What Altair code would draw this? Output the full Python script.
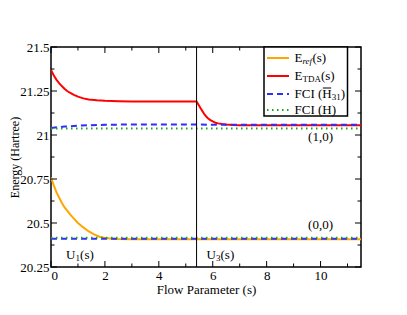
import altair as alt
import pandas as pd

# ---------------- data ----------------
s_tda = [0, 0.1, 0.2, 0.3, 0.4, 0.5, 0.6, 0.7, 0.85, 1.0, 1.2, 1.4, 1.7, 2.0, 2.5, 3.0, 4.0, 5.0, 5.4,
         5.45, 5.5, 5.55, 5.6, 5.7, 5.8, 5.9, 6.0, 6.1, 6.2, 6.35, 6.5, 6.75, 7.0, 8.0, 9.0, 10.0, 11.0, 11.5]
e_tda = [21.37, 21.34, 21.315, 21.295, 21.278, 21.263, 21.25, 21.24, 21.228, 21.218, 21.208, 21.202,
         21.197, 21.194, 21.192, 21.191, 21.19, 21.19, 21.19,
         21.178, 21.165, 21.152, 21.14, 21.115, 21.098, 21.086, 21.077, 21.07, 21.066,
         21.062, 21.059, 21.057, 21.056, 21.056, 21.056, 21.056, 21.056, 21.056]

s_ref = [0, 0.1, 0.2, 0.3, 0.4, 0.5, 0.6, 0.7, 0.85, 1.0, 1.2, 1.4, 1.6, 1.8, 2.0, 2.4, 3.0, 11.5]
e_ref = [20.76, 20.715, 20.675, 20.645, 20.615, 20.59, 20.57, 20.55, 20.525, 20.5, 20.475, 20.452,
         20.435, 20.422, 20.415, 20.409, 20.407, 20.407]

s_h31_upper = [0, 0.5, 1.0, 1.5, 2.0, 3.0, 5.4, 6.0, 11.5]
e_h31_upper = [21.04, 21.048, 21.053, 21.056, 21.058, 21.06, 21.06, 21.058, 21.058]
s_h31_lower = [0, 11.5]
e_h31_lower = [20.41, 20.41]

s_fci = [0, 11.5]
e_fci_upper = [21.037, 21.037]
e_fci_lower = [20.416, 20.416]

s_switch = [5.4]
x_major = [0, 2, 4, 6, 8, 10]
x_minor = [1, 3, 5, 7, 9, 11]
y_major = [20.25, 20.5, 20.75, 21.0, 21.25, 21.5]
y_minor = [20.375, 20.625, 20.875, 21.125, 21.375]
x_domain = [0, 11.5]
y_domain = [20.25, 21.5]

state_labels = ["(1,0)", "(0,0)"]
state_label_s = [10.0, 10.0]
state_label_e = [20.99, 20.49]

flow_main = ["U", "U"]
flow_sub = ["1", "3"]
flow_s = [0.56, 5.77]
flow_e = [20.32, 20.32]

# ---------------- styling ----------------
FONT = "Liberation Serif"
PAD_L, PAD_T = 43, 39
W, H = 310, 220
MAJ, MIN = 6, 3.5
ORANGE, RED, BLUE, GREEN = "#FFA500", "#FF0000", "#2e2eff", "#1fa01f"

rows = []
def add(series, branch, ss, ee):
    for s, e in zip(ss, ee):
        rows.append({"s": s, "E": e, "series": series, "branch": branch})

add("tda", "u", s_tda, e_tda)
add("ref", "l", s_ref, e_ref)
add("h31", "u", s_h31_upper, e_h31_upper)
add("h31", "l", s_h31_lower, e_h31_lower)
add("fci", "u", s_fci, e_fci_upper)
add("fci", "l", s_fci, e_fci_lower)
df = pd.DataFrame(rows)

xscale = alt.Scale(domain=x_domain, nice=False, zero=False)
yscale = alt.Scale(domain=y_domain, nice=False, zero=False)

xaxis = alt.Axis(values=x_major, ticks=False, domain=False, grid=False,
                 labelFont=FONT, labelFontSize=13, labelColor="black", labelPadding=2,
                 labelExpr="datum.value + ''",
                 title="Flow Parameter (s)", titleFont=FONT, titleFontSize=13,
                 titleFontWeight="normal", titleColor="black", titleY=22, titleBaseline="middle")
yaxis = alt.Axis(values=y_major, ticks=False, domain=False, grid=False,
                 labelFont=FONT, labelFontSize=13, labelColor="black", labelPadding=2,
                 labelExpr="datum.value + ''", labelOverlap=False, labelFlush=False,
                 title="Energy (Hartree)", titleFont=FONT, titleFontSize=12,
                 titleFontWeight="normal", titleColor="black", titleX=-32.5, titleY=H / 2,
                 titleAngle=270, titleBaseline="alphabetic", titleAlign="center")


def X(field):
    return alt.X(field, scale=xscale, axis=xaxis)


def Y(field):
    return alt.Y(field, scale=yscale, axis=yaxis)


def line_layer(series, color, dash=None):
    kw = dict(color=color, strokeWidth=2, clip=True)
    if dash is not None:
        kw["strokeDash"] = dash
    return alt.Chart(df).transform_filter(alt.datum.series == series).mark_line(**kw).encode(
        x=X("s:Q"), y=Y("E:Q"), detail="branch:N")


layers = [
    line_layer("tda", RED),
    line_layer("ref", ORANGE),
    line_layer("h31", BLUE, [6, 4]),
    line_layer("fci", GREEN, [1.5, 3.5]),
]

# switch line
layers.append(alt.Chart(pd.DataFrame({"s": s_switch})).mark_rule(color="black", strokeWidth=1).encode(
    x=X("s:Q")))

# inward ticks on all four sides
def xticks(vals, L):
    d = pd.DataFrame({"s": vals})
    return [
        alt.Chart(d).mark_rule(color="black", strokeWidth=1).encode(x=X("s:Q"), y=alt.value(H), y2=alt.value(H - L)),
        alt.Chart(d).mark_rule(color="black", strokeWidth=1).encode(x=X("s:Q"), y=alt.value(0), y2=alt.value(L)),
    ]

def yticks(vals, L):
    d = pd.DataFrame({"E": vals})
    return [
        alt.Chart(d).mark_rule(color="black", strokeWidth=1).encode(y=Y("E:Q"), x=alt.value(0), x2=alt.value(L)),
        alt.Chart(d).mark_rule(color="black", strokeWidth=1).encode(y=Y("E:Q"), x=alt.value(W), x2=alt.value(W - L)),
    ]

layers += xticks(x_major, MAJ) + xticks(x_minor, MIN) + yticks(y_major, MAJ) + yticks(y_minor, MIN)

# state annotations
ann = pd.DataFrame({"s": state_label_s, "E": state_label_e, "label": state_labels})
layers.append(alt.Chart(ann).mark_text(font=FONT, fontSize=13, color="black", align="center",
                                       baseline="middle").encode(x=X("s:Q"), y=Y("E:Q"), text="label:N"))

# flow labels U_1(s), U_3(s)
fl = pd.DataFrame({"s": flow_s, "E": flow_e, "main": flow_main, "sub": flow_sub})
layers.append(alt.Chart(fl).mark_text(font=FONT, fontSize=13, color="black", align="left",
                                      baseline="alphabetic", dy=4).encode(x=X("s:Q"), y=Y("E:Q"), text="main:N"))
layers.append(alt.Chart(fl).mark_text(font=FONT, fontSize=9, color="black", align="left",
                                      baseline="alphabetic", dx=9.4, dy=6.5).encode(x=X("s:Q"), y=Y("E:Q"), text="sub:N"))
layers.append(alt.Chart(fl).mark_text(font=FONT, fontSize=13, color="black", align="left",
                                      baseline="alphabetic", dx=14, dy=4).encode(x=X("s:Q"), y=Y("E:Q"), text=alt.value("(s)")))

# ---------------- legend (drawn by hand to allow subscripts) ----------------
one = alt.Data(values=[{"k": 1}])
OX = 48 - PAD_L - 8 + 3  # shift so the legend keeps its page position
BX0, BX1, BY0, BY1 = 216 - 3, 299.5 - 3, 0, 69
layers.append(alt.Chart(one).mark_rect(fill="white", stroke="black", strokeWidth=1.5).encode(
    x=alt.value(BX0), x2=alt.value(BX1), y=alt.value(BY0), y2=alt.value(BY1)))

ly = [11, 29, 47, 63]
samples = [(ORANGE, None), (RED, None), (BLUE, [6, 4]), (GREEN, [1.5, 3.5])]
for yy, (c, dash) in zip(ly, samples):
    kw = dict(color=c, strokeWidth=2)
    if dash is not None:
        kw["strokeDash"] = dash
    layers.append(alt.Chart(one).mark_rule(**kw).encode(
        x=alt.value(216), x2=alt.value(238), y=alt.value(yy)))

TX = 243.5

def txt(x, y, s, size=13, italic=False):
    kw = dict(font=FONT, fontSize=size, color="black", align="left", baseline="alphabetic")
    if italic:
        kw["fontStyle"] = "italic"
    return alt.Chart(one).mark_text(**kw).encode(x=alt.value(x), y=alt.value(y), text=alt.value(s))

# E_ref(s)
layers += [txt(TX, ly[0] + 4, "E"), txt(TX + 7.9, ly[0] + 6, "ref", 9, True), txt(TX + 17.9, ly[0] + 4, "(s)")]
# E_TDA(s)
layers += [txt(TX, ly[1] + 4, "E"), txt(TX + 7.9, ly[1] + 6, "TDA", 9), txt(TX + 26.4, ly[1] + 4, "(s)")]
# FCI (H̄_31)
layers += [txt(TX, ly[2] + 4, "FCI ("), txt(TX + 27.8, ly[2] + 4, "H"), txt(TX + 37.2, ly[2] + 6, "31", 9),
           txt(TX + 46.2, ly[2] + 4, ")")]
layers.append(alt.Chart(one).mark_rule(color="black", strokeWidth=1).encode(
    x=alt.value(TX + 28.3), x2=alt.value(TX + 36.7), y=alt.value(ly[2] - 6)))
# FCI (H)
layers += [txt(TX, ly[3] + 4, "FCI (H)")]

chart = alt.layer(*layers).properties(
    width=W, height=H,
    padding={"left": PAD_L, "top": PAD_T, "right": 391 - PAD_L - W, "bottom": 299 - PAD_T - H},
    autosize=alt.AutoSizeParams(type="none"),
).configure_view(stroke="black", strokeWidth=1.5)

chart.save("out.html", embed_options={"renderer": "svg", "actions": False})
